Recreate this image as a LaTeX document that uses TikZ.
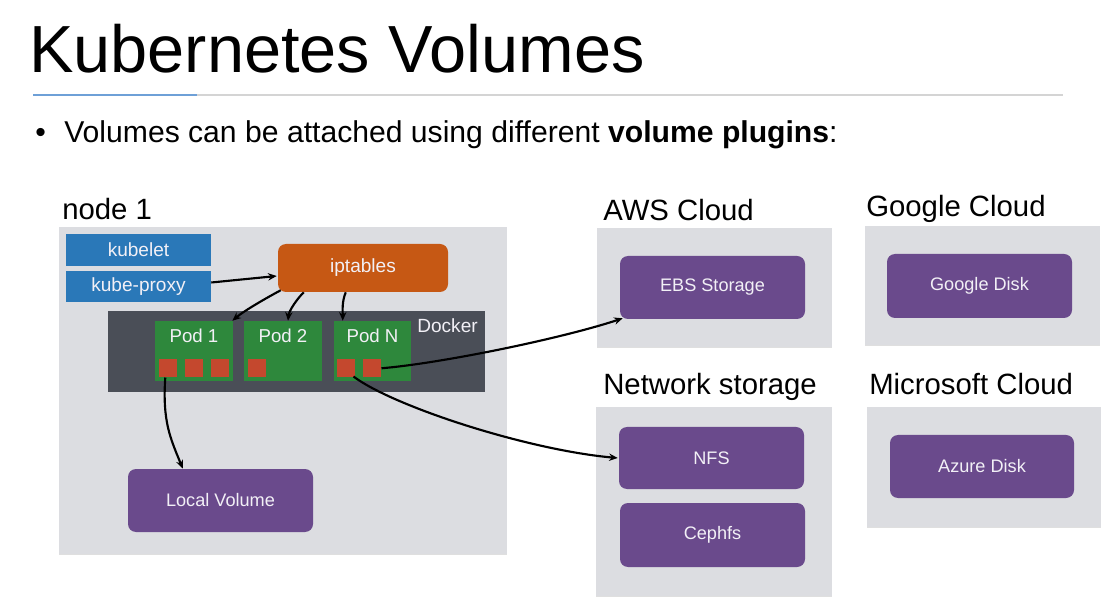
\documentclass[tikz,border=0pt]{standalone}
\usepackage{fontspec}
\setmainfont{Liberation Sans}
\usetikzlibrary{calc,arrows.meta,shadows}
\definecolor{boxgray}{RGB}{220,221,225}
\definecolor{kblue}{RGB}{42,120,184}
\definecolor{korange}{RGB}{198,88,20}
\definecolor{kdocker}{RGB}{74,78,87}
\definecolor{kgreen}{RGB}{46,136,60}
\definecolor{kred}{RGB}{196,72,46}
\definecolor{kpurple}{RGB}{106,74,140}
\definecolor{boxtxt}{RGB}{242,240,246}
\definecolor{lineblue}{RGB}{110,160,215}
\definecolor{linegray}{RGB}{212,212,212}
\begin{document}
\begin{tikzpicture}[x=0.75pt,y=-0.75pt,
  rect/.style n args={4}{anchor=center, minimum width={(#3-#1)*0.75pt}, minimum height={(#4-#2)*0.75pt}, at={({(#1+#3)/2},{(#2+#4)/2})}},
  grbox/.style={fill=boxgray, inner sep=0pt, drop shadow={shadow xshift=0pt, shadow yshift=-0.9pt, opacity=0.25}},
  colbox/.style={inner sep=0pt, text=boxtxt, font=\fontsize{14.3}{17}\selectfont},
  bluebox/.style={colbox, fill=kblue},
  orbox/.style={colbox, fill=korange, rounded corners=6pt},
  podbox/.style={inner sep=0pt, fill=kgreen},
  podlbl/.style={anchor=base, text=boxtxt, font=\fontsize{14}{17}\selectfont, inner sep=0pt, yshift=-16.5pt},
  sq/.style={inner sep=0pt, fill=kred, minimum width=13.5pt, minimum height=13.5pt},
  pbox/.style={colbox, fill=kpurple, rounded corners=6pt, font=\fontsize{13.6}{16}\selectfont},
  grlabel/.style={anchor=base west, inner sep=0pt, font=\fontsize{22}{26}\selectfont},
  arr/.style={-{Stealth[length=6.5pt,width=5.5pt]}, line width=1.6pt, black},
]
\useasboundingbox (0,0) rectangle (1120,605);

% title and rule
\node[anchor=base west, inner sep=0pt, font=\fontsize{50}{56}\selectfont] (title) at (29,73) {Kubernetes Volumes};
\draw[linegray, line width=1pt] (33,95) -- (1063,95);
\draw[lineblue, line width=1.2pt] (33,95) -- (197,95);

% bullet
\node[anchor=base west, inner sep=0pt, font=\fontsize{22.6}{26}\selectfont] (bul) at (35,143) {\textbullet};
\node[anchor=base west, inner sep=0pt, font=\fontsize{22.6}{26}\selectfont] (btext) at (64,143) {Volumes can be attached using different \textbf{volume plugins}:};

% node 1
\node[grlabel] (n1lbl) at (62,220) {node 1};
\node[grbox, rect={59}{227}{507}{554}] (node1) {};
\node[bluebox, rect={66}{234}{211}{266}] (kl) {kubelet};
\node[bluebox, rect={66}{271}{211}{302}] (kp) {kube-proxy};
\node[orbox, rect={278}{244}{448}{292}] (ipt) {iptables};
\node[inner sep=0pt, fill=kdocker, rect={108}{311}{485}{392}] (dock) {};
\node[anchor=base east, inner sep=0pt, text=boxtxt, font=\fontsize{14.3}{17}\selectfont] (docklbl) at (478,333) {Docker};

\node[podbox, rect={155}{321}{233}{381}, label={[podlbl]north:Pod 1}] (p1) {};
\node[podbox, rect={244}{321}{322}{381}, label={[podlbl]north:Pod 2}] (p2) {};
\node[podbox, rect={334}{321}{411}{381}, label={[podlbl]north:Pod N}] (pn) {};

\node[sq, anchor=north west] (p1a) at (159,359) {};
\node[sq, anchor=north west] (p1b) at (185,359) {};
\node[sq, anchor=north west] (p1c) at (211,359) {};
\node[sq, anchor=north west] (p2a) at (248,359) {};
\node[sq, anchor=north west] (pn1) at (337,359) {};
\node[sq, anchor=north west] (pn2) at (363,359) {};

\node[pbox, rect={128}{469}{313}{532}] (lv) {Local Volume};

% AWS
\node[grlabel] (awslbl) at (603,221) {AWS Cloud};
\node[grbox, rect={597}{228}{832}{347}] (aws) {};
\node[pbox, rect={620}{256}{805}{319}] (ebs) {EBS Storage};

% Google
\node[grlabel] (goolbl) at (866,217) {Google Cloud};
\node[grbox, rect={865}{226}{1100}{345}] (goo) {};
\node[pbox, rect={887}{254}{1072}{318}] (gdisk) {Google Disk};

% Network storage
\node[grlabel] (netlbl) at (603,395) {Network storage};
\node[grbox, rect={596}{407}{832}{596}] (net) {};
\node[pbox, rect={619}{427}{804}{489}] (nfs) {NFS};
\node[pbox, rect={620}{503}{805}{567}] (ceph) {Cephfs};

% Microsoft
\node[grlabel] (mslbl) at (869,395) {Microsoft Cloud};
\node[grbox, rect={867}{407}{1101}{527}] (ms) {};
\node[pbox, rect={890}{435}{1074}{498}] (azure) {Azure Disk};

% connectors
\draw[arr] ($(kp.east)+(0,-4)$) -- ($(ipt.west)+(-1,8)$);
\draw[arr] ($(ipt.south west)+(3,-2)$) .. controls +(-15,8) and +(12,-10) .. ($(p1.north east)+(-1,0)$);
\draw[arr] ($(ipt.south west)+(26,0)$) .. controls +(-7,7) and +(1,-10) .. ($(p2.north)+(5,0)$);
\draw[arr] ($(ipt.south west)+(68,0)$) .. controls +(-4,10) and +(0,-10) .. ($(pn.north west)+(9,0)$);
\draw[arr] (pn2.east) .. controls +(60,-5) and +(-60,20) .. ($(ebs.south west)+(3,-1)$);
\draw[arr] ($(pn1.south east)+(-2,-1)$) .. controls +(40,30) and +(-90,-8) .. ($(nfs.west)+(-1,0)$);
\draw[arr] ($(p1a.south)+(-3,0)$) .. controls +(-3,45) and +(-12,-30) .. ($(lv.north west)+(55,0)$);
\end{tikzpicture}
\end{document}
